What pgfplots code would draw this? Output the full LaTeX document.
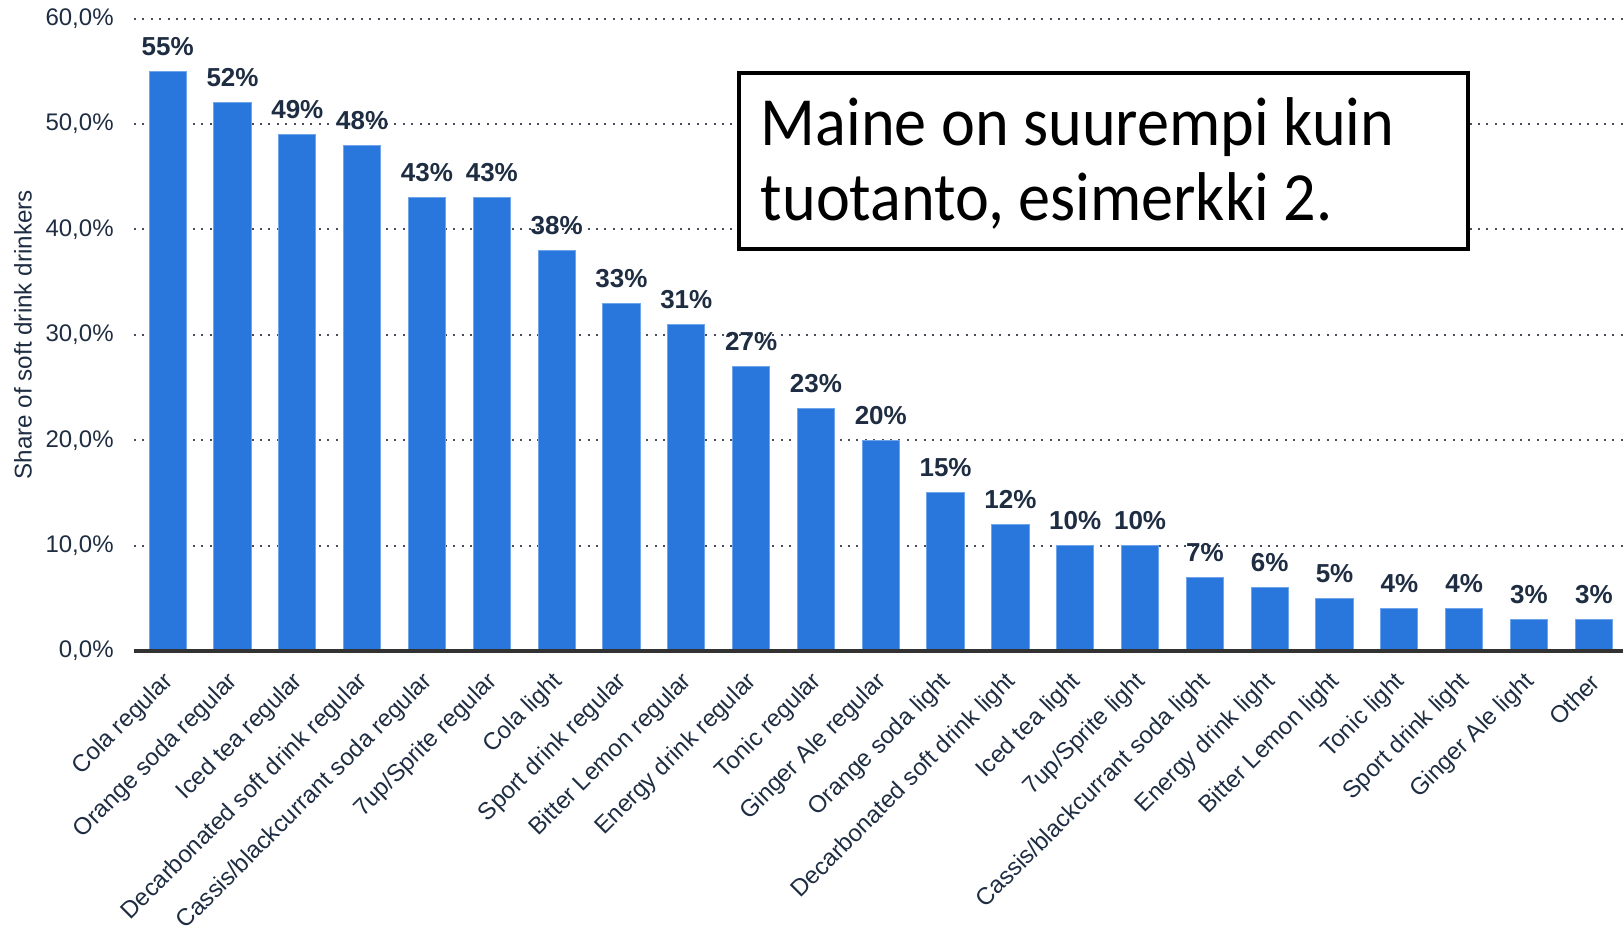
\documentclass[border=0pt]{standalone}
\usepackage{pgfplots}
\pgfplotsset{compat=1.18}
\usepackage{fontspec}
\setmainfont{Liberation Sans}
\newfontfamily\boxfont[FakeStretch=0.93]{Carlito}
\definecolor{barblue}{RGB}{41,118,221}
\definecolor{baredge}{RGB}{110,165,235}
\definecolor{ink}{RGB}{30,45,66}
\definecolor{axisdark}{RGB}{50,50,50}
\definecolor{gridc}{RGB}{70,78,92}

\begin{document}
\begin{tikzpicture}
\useasboundingbox (-67pt,-137.5pt) rectangle (744.5pt,325.5pt);
\begin{axis}[
  at={(0,0)}, anchor=south west,
  scale only axis, width=744.5pt, height=316.2pt,
  ybar, bar width=18.6pt,
  xmin=-0.52, xmax=22.45, ymin=0, ymax=60,
  xtick=data,
  xticklabels={Cola regular,Orange soda regular,Iced tea regular,Decarbonated soft drink regular,Cassis/blackcurrant soda regular,7up/Sprite regular,Cola light,Sport drink regular,Bitter Lemon regular,Energy drink regular,Tonic regular,Ginger Ale regular,Orange soda light,Decarbonated soft drink light,Iced tea light,7up/Sprite light,Cassis/blackcurrant soda light,Energy drink light,Bitter Lemon light,Tonic light,Sport drink light,Ginger Ale light,Other},
  ytick={0,10,...,60},
  major tick length=0pt,
  axis line style={draw=none},
  ymajorgrids, grid style={gridc, line width=1pt, dash pattern=on 1pt off 3.2pt},
  /pgf/number format/assume math mode=true,
  yticklabel={\pgfmathprintnumber[fixed,fixed zerofill,precision=1,use comma]{\tick}\%},
  yticklabel style={font=\fontsize{12}{14}\selectfont, text=ink, anchor=east, inner sep=0pt, xshift=-10pt},
  xticklabel style={font=\fontsize{12}{14}\selectfont, text=ink, inner sep=0pt, yshift=-13.5pt, xshift=1pt, rotate=45, anchor=east},
  ylabel={Share of soft drink drinkers},
  every axis y label/.style={at={(axis description cs:-0.0745,0.5)}, rotate=90, anchor=center, font=\fontsize{12.1}{14}\selectfont, text=ink},
  nodes near coords={\pgfmathprintnumber{\pgfplotspointmeta}\%},
  nodes near coords style={font=\bfseries\fontsize{13}{15}\selectfont, text=ink, anchor=base, inner sep=0pt, yshift=8pt},
  clip=false,
]
\addplot[fill=barblue, draw=baredge, line width=0.5pt] coordinates {
  (0,55) (1,52) (2,49) (3,48) (4,43) (5,43) (6,38) (7,33) (8,31) (9,27)
  (10,23) (11,20) (12,15) (13,12) (14,10) (15,10) (16,7) (17,6) (18,5)
  (19,4) (20,4) (21,3) (22,3)};
\draw[axisdark, line width=2.2pt] (rel axis cs:0,0) -- (rel axis cs:1,0);
\draw[black, fill=white, line width=2pt] (rel axis cs:0.4063,0.635) rectangle (rel axis cs:0.8956,0.9132);
\node[anchor=base west, inner sep=0pt, font=\boxfont\fontsize{34.5}{38}\selectfont] at (rel axis cs:0.4208,0.8001) {Maine on suurempi kuin};
\node[anchor=base west, inner sep=0pt, font=\boxfont\fontsize{34.5}{38}\selectfont] at (rel axis cs:0.4208,0.6815) {tuotanto, esimerkki 2.};
\end{axis}
\end{tikzpicture}
\end{document}
